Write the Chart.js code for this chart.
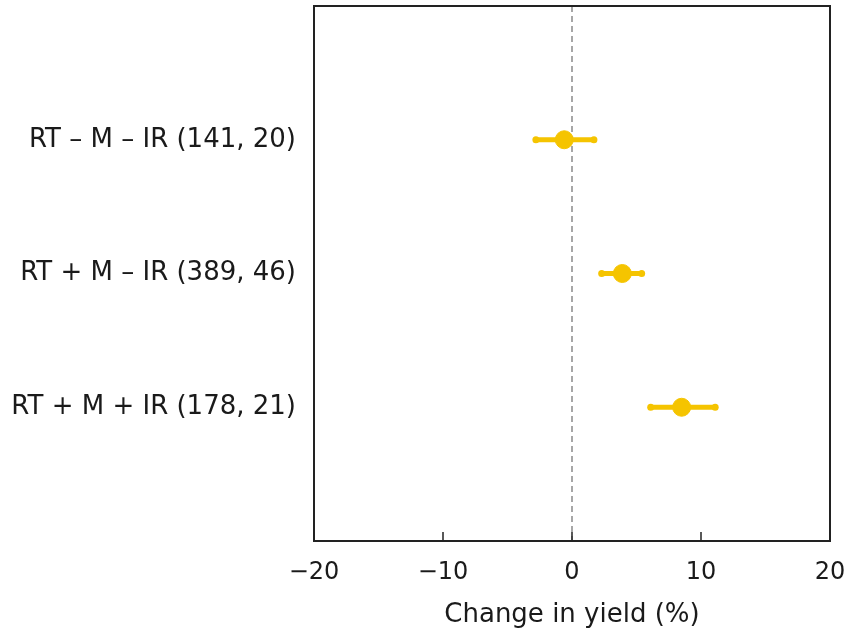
<!DOCTYPE html>
<html>
<head>
<meta charset="utf-8">
<script src="https://cdn.jsdelivr.net/npm/chart.js"></script>
<style>
  html, body { margin: 0; padding: 0; background: #fff; }
  #wrap { width: 851px; height: 631px; }
</style>
</head>
<body>
<div id="wrap"><canvas id="chart" width="851" height="631"></canvas></div>
<script>
// data
const categories = ["RT \u2013 M \u2013 IR (141, 20)", "RT + M \u2013 IR (389, 46)", "RT + M + IR (178, 21)"];
const meanChange = [-0.6, 3.9, 8.5];
const lowerCI = [-2.8, 2.3, 6.1];
const upperCI = [1.7, 5.4, 11.1];
const xTicks = [-20, -10, 0, 10, 20];

const yellow = "#f5c400";
const font = "'DejaVu Sans', Arial, sans-serif";

const points = meanChange.map((v, i) => ({ x: v, y: i + 1 }));

// frame, zero line, inner ticks and error bars
const decor = {
  id: "decor",
  beforeDatasetsDraw(chart) {
    const { ctx, chartArea: a, scales: { x, y } } = chart;
    ctx.save();
    // dashed zero line
    ctx.strokeStyle = "#8a8a8a";
    ctx.lineWidth = 1.5;
    ctx.setLineDash([6, 4]);
    const x0 = x.getPixelForValue(0);
    ctx.beginPath();
    ctx.moveTo(x0, a.top);
    ctx.lineTo(x0, a.bottom);
    ctx.stroke();
    ctx.setLineDash([]);
    // error bars
    ctx.strokeStyle = yellow;
    ctx.fillStyle = yellow;
    ctx.lineWidth = 5;
    ctx.lineCap = "round";
    for (let i = 0; i < meanChange.length; i++) {
      const py = y.getPixelForValue(i + 1);
      const l = x.getPixelForValue(lowerCI[i]);
      const r = x.getPixelForValue(upperCI[i]);
      ctx.beginPath();
      ctx.moveTo(l, py);
      ctx.lineTo(r, py);
      ctx.stroke();
      [l, r].forEach(px => {
        ctx.beginPath();
        ctx.arc(px, py, 3.5, 0, Math.PI * 2);
        ctx.fill();
      });
    }
    ctx.restore();
  },
  afterDraw(chart) {
    const { ctx, chartArea: a, scales: { x } } = chart;
    ctx.save();
    ctx.strokeStyle = "#222";
    ctx.lineWidth = 2;
    ctx.strokeRect(a.left, a.top, a.right - a.left, a.bottom - a.top);
    ctx.lineWidth = 1.5;
    xTicks.forEach(t => {
      const px = x.getPixelForValue(t);
      ctx.beginPath();
      ctx.moveTo(px, a.bottom);
      ctx.lineTo(px, a.bottom - 9);
      ctx.stroke();
    });
    ctx.restore();
  }
};

new Chart(document.getElementById("chart").getContext("2d"), {
  type: "scatter",
  data: {
    datasets: [{
      data: points,
      backgroundColor: yellow,
      borderColor: yellow,
      pointRadius: 9,
      pointHoverRadius: 9
    }]
  },
  options: {
    responsive: false,
    animation: false,
    layout: { autoPadding: false, padding: { top: 6, right: 21, left: 0, bottom: 0 } },
    plugins: { legend: { display: false }, tooltip: { enabled: false } },
    scales: {
      x: {
        min: -20,
        max: 20,
        afterBuildTicks: s => { s.ticks = xTicks.map(v => ({ value: v })); },
        afterFit: s => { s.height = 90; s.paddingLeft = 0; s.paddingRight = 0; },
        grid: { display: false },
        border: { display: false },
        ticks: {
          color: "#1a1a1a",
          padding: 9,
          font: { family: font, size: 24 },
          callback: v => (v < 0 ? "\u2212" + Math.abs(v) : String(v))
        },
        title: {
          display: true,
          text: "Change in yield (%)",
          color: "#1a1a1a",
          font: { family: font, size: 26 },
          padding: { top: 4, bottom: 0 }
        }
      },
      y: {
        reverse: true,
        min: 0,
        max: 4,
        afterBuildTicks: s => { s.ticks = categories.map((c, i) => ({ value: i + 1 })); },
        afterFit: s => { s.width = 314; s.paddingTop = 0; s.paddingBottom = 0; },
        grid: { display: false },
        border: { display: false },
        ticks: {
          color: "#1a1a1a",
          padding: 10,
          font: { family: font, size: 26 },
          callback: v => categories[v - 1] || ""
        }
      }
    }
  },
  plugins: [decor]
});
</script>
</body>
</html>
